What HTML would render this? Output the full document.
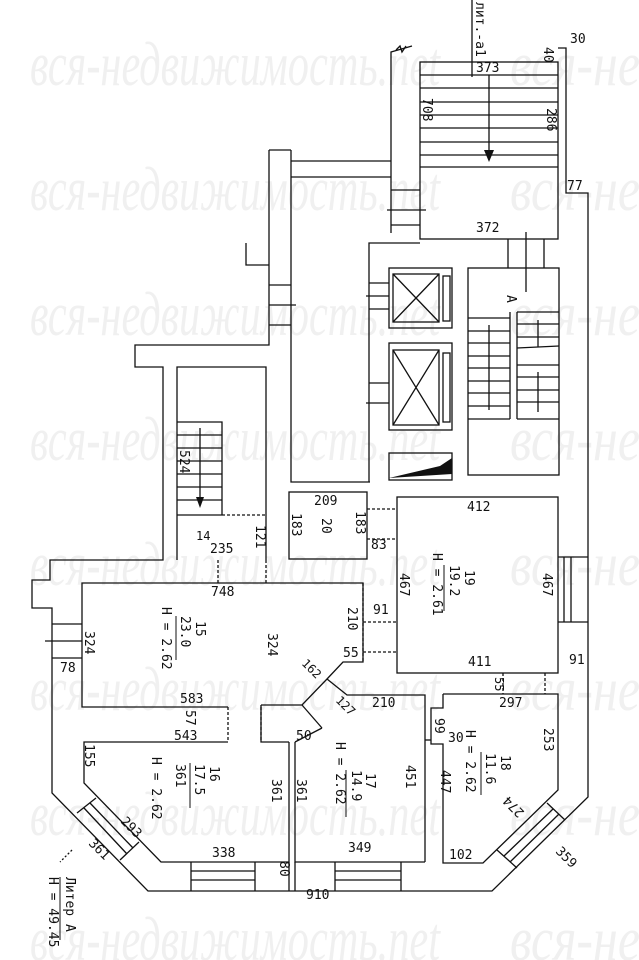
<!DOCTYPE html>
<html><head><meta charset="utf-8"><style>
html,body{margin:0;padding:0;background:#fff;width:639px;height:960px;overflow:hidden}
svg{display:block}
.w{font-family:"Liberation Serif",serif;font-style:italic;font-size:62px;fill:#f0f0f0}
text.t{font-family:"DejaVu Sans Mono","Liberation Mono",monospace;font-size:13px;fill:#111}
</style></head><body>
<svg width="639" height="960" viewBox="0 0 639 960" xmlns="http://www.w3.org/2000/svg">
<g class="w">
<text x="30" y="85" textLength="410" lengthAdjust="spacingAndGlyphs">вся-недвижимость.net</text>
<text x="510" y="85" textLength="130" lengthAdjust="spacingAndGlyphs">вся-не</text>
<text x="30" y="210" textLength="410" lengthAdjust="spacingAndGlyphs">вся-недвижимость.net</text>
<text x="510" y="210" textLength="130" lengthAdjust="spacingAndGlyphs">вся-не</text>
<text x="30" y="335" textLength="410" lengthAdjust="spacingAndGlyphs">вся-недвижимость.net</text>
<text x="510" y="335" textLength="130" lengthAdjust="spacingAndGlyphs">вся-не</text>
<text x="30" y="460" textLength="410" lengthAdjust="spacingAndGlyphs">вся-недвижимость.net</text>
<text x="510" y="460" textLength="130" lengthAdjust="spacingAndGlyphs">вся-не</text>
<text x="30" y="585" textLength="410" lengthAdjust="spacingAndGlyphs">вся-недвижимость.net</text>
<text x="510" y="585" textLength="130" lengthAdjust="spacingAndGlyphs">вся-не</text>
<text x="30" y="710" textLength="410" lengthAdjust="spacingAndGlyphs">вся-недвижимость.net</text>
<text x="510" y="710" textLength="130" lengthAdjust="spacingAndGlyphs">вся-не</text>
<text x="30" y="835" textLength="410" lengthAdjust="spacingAndGlyphs">вся-недвижимость.net</text>
<text x="510" y="835" textLength="130" lengthAdjust="spacingAndGlyphs">вся-не</text>
<text x="30" y="960" textLength="410" lengthAdjust="spacingAndGlyphs">вся-недвижимость.net</text>
<text x="510" y="960" textLength="130" lengthAdjust="spacingAndGlyphs">вся-не</text>
</g>
<g fill="none" stroke="#111" stroke-width="1.3">
<rect x="420" y="62" width="138" height="177"/>
<path d="M472 0V77"/>
<path d="M558 48H566V193H588V797L492 891H148L52 793V608H32V580H50V560H163V367H135V345H269V150"/>
<path d="M420 75H558M420 88H558M420 102H558M420 115H558M420 128H558M420 142H558M420 155H558M420 167H558"/>
<path d="M489 75V152"/>
<path d="M391 233V52L412 46"/>
<path d="M396 50l4-4 2 6 4-6" />
<path d="M291 161H391M291 177H391M269 150L291 150M291 150V482H370"/>
<path d="M391 190H420M387 210H426M391 225H420"/>
<path d="M246 243V265H269M269 285H291M269 305H296M269 325H291"/>
<path d="M369 482V243H420"/>
<rect x="389" y="268" width="63" height="60"/><rect x="393" y="274" width="46" height="48"/><rect x="443" y="276" width="7" height="45"/>
<path d="M393 274L439 322M439 274L393 322"/>
<rect x="389" y="343" width="63" height="87"/><rect x="393" y="350" width="46" height="75"/><rect x="443" y="353" width="7" height="69"/>
<path d="M393 350L439 425M439 350L393 425"/>
<path d="M369 283H389M366 296H389M369 309H389M369 383H389M366 403H389"/>
<rect x="389" y="453" width="63" height="27"/>
<rect x="468" y="268" width="91" height="207"/>
<path d="M508 239V268M526 232V292M544 239V268"/>
<path d="M468 318H510M468 331H510M468 343H510M468 356H510M468 368H510M468 381H510M468 393H510M468 406H510M468 419H510"/>
<path d="M517 312H559M517 324H559M517 337H559M517 348L559 346M517 365H559M517 377H559M517 390H559M517 402H559M517 419H559"/>
<path d="M510 312V419M517 312V419"/>
<path d="M489 325V410M538 320V347M538 372V412"/>
<path d="M177 560V367H266V560"/>
<path d="M177 422H222V515M177 435H222M177 448H222M177 461H222M177 474H222M177 487H222M177 500H222M177 515H222"/>
<path d="M200 428V500"/>
<path d="M222 515H266" stroke-dasharray="3 2"/>
<path d="M218 560V583M266 560V583" stroke-dasharray="3 2"/>
<rect x="289" y="492" width="78" height="67"/>
<path d="M367 509H397M367 539H397" stroke-dasharray="3 2"/>
<rect x="397" y="497" width="161" height="176"/>
<path d="M558 557H588M558 622H588M564 557V622M571 557V622"/>
<path d="M363 622H397M363 652H397M363 583V662" stroke-dasharray="3 2"/>
<path d="M503 673V694M545 673V694" stroke-dasharray="3 2"/>
<path d="M228 707H82V583H363V662H343L327 679L302 705H261"/>
<path d="M52 624H82M52 658H82M45 641H82"/>
<path d="M228 707V742M261 707V742" stroke-dasharray="3 2"/>
<path d="M261 705V742H289"/>
<path d="M327 679L347 695H425V862"/>
<path d="M302 705L322 728"/>
<path d="M322 728L295 742"/>
<path d="M228 742H84V783L161 862H289V742"/>
<path d="M295 742V862H425"/>
<path d="M77 813L96 798M120 860L139 842M84 808L127 854M90 803L133 848"/>
<path d="M443 694H558V790L483 863H443V744H431V708H443V694"/>
<path d="M425 740H431"/>
<path d="M497 850L517 868M547 803L565 820M504 856L553 809M510 862L559 814"/>
<path d="M191 862V891M255 862V891M191 871H255M191 880H255M335 862V891M401 862V891M335 871H401M335 880H401M289 862V891M295 862V891"/>
<path d="M72 850L60 862" stroke-dasharray="2 2"/>
</g>
<path d="M389 478L452 474V458L440 466Z" fill="#111"/>
<path d="M484 150L494 150L489 162Z" fill="#111"/>
<path d="M196 497L204 497L200 508Z" fill="#111"/>
<g>
<text class="t" x="570" y="43">30</text>
<text class="t" x="0" y="0" transform="translate(544,47) rotate(90)">40</text>
<text class="t" x="0" y="0" transform="translate(476,2) rotate(90)">лит.-а1</text>
<text class="t" x="476" y="72">373</text>
<text class="t" x="0" y="0" transform="translate(423,98) rotate(90)">708</text>
<text class="t" x="0" y="0" transform="translate(547,108) rotate(90)">286</text>
<text class="t" x="567" y="190">77</text>
<text class="t" x="476" y="232">372</text>
<text class="t" x="0" y="0" transform="translate(180,450) rotate(90)">524</text>
<text class="t" x="0" y="0" transform="translate(507,295) rotate(90)">A</text>
<text class="t" x="196" y="540" style="font-size:12px">14</text>
<text class="t" x="210" y="553">235</text>
<text class="t" x="0" y="0" transform="translate(256,525) rotate(90)">121</text>
<text class="t" x="314" y="505">209</text>
<text class="t" x="0" y="0" transform="translate(292,513) rotate(90)">183</text>
<text class="t" x="0" y="0" transform="translate(322,518) rotate(90)">20</text>
<text class="t" x="0" y="0" transform="translate(356,511) rotate(90)">183</text>
<text class="t" x="371" y="549" fill="#555">83</text>
<text class="t" x="467" y="511">412</text>
<text class="t" x="0" y="0" transform="translate(465,570) rotate(90)">19</text>
<text class="t" x="0" y="0" transform="translate(450,565) rotate(90)">19.2</text>
<line x1="444" y1="565" x2="444" y2="611" stroke="#111"/>
<text class="t" x="0" y="0" transform="translate(433,553) rotate(90)">H = 2.61</text>
<text class="t" x="0" y="0" transform="translate(400,573) rotate(90)">467</text>
<text class="t" x="0" y="0" transform="translate(543,573) rotate(90)">467</text>
<text class="t" x="468" y="666">411</text>
<text class="t" x="569" y="664">91</text>
<text class="t" x="373" y="614">91</text>
<text class="t" x="0" y="0" transform="translate(348,607) rotate(90)">210</text>
<text class="t" x="343" y="657">55</text>
<text class="t" x="211" y="596">748</text>
<text class="t" x="0" y="0" transform="translate(196,621) rotate(90)">15</text>
<text class="t" x="0" y="0" transform="translate(181,616) rotate(90)">23.0</text>
<line x1="176" y1="616" x2="176" y2="660" stroke="#111"/>
<text class="t" x="0" y="0" transform="translate(162,607) rotate(90)">H = 2.62</text>
<text class="t" x="0" y="0" transform="translate(268,633) rotate(90)">324</text>
<text class="t" x="0" y="0" transform="translate(85,631) rotate(90)">324</text>
<text class="t" x="60" y="672">78</text>
<text class="t" x="180" y="703">583</text>
<text class="t" x="0" y="0" transform="translate(186,710) rotate(90)">57</text>
<text class="t" x="174" y="740">543</text>
<text class="t" x="0" y="0" transform="translate(301,664) rotate(45)" style="font-size:12px">162</text>
<text class="t" x="0" y="0" transform="translate(335,701) rotate(45)" style="font-size:12px">127</text>
<text class="t" x="372" y="707">210</text>
<text class="t" x="296" y="740">50</text>
<text class="t" x="0" y="0" transform="translate(85,744) rotate(90)">155</text>
<text class="t" x="0" y="0" transform="translate(210,766) rotate(90)">16</text>
<text class="t" x="0" y="0" transform="translate(195,764) rotate(90)">17.5</text>
<line x1="190" y1="763" x2="190" y2="808" stroke="#111"/>
<text class="t" x="0" y="0" transform="translate(176,764) rotate(90)">361</text>
<text class="t" x="0" y="0" transform="translate(152,757) rotate(90)">H = 2.62</text>
<text class="t" x="0" y="0" transform="translate(272,779) rotate(90)">361</text>
<text class="t" x="0" y="0" transform="translate(297,779) rotate(90)">361</text>
<text class="t" x="0" y="0" transform="translate(120,822) rotate(45)">293</text>
<text class="t" x="0" y="0" transform="translate(88,844) rotate(45)">361</text>
<text class="t" x="212" y="857">338</text>
<text class="t" x="0" y="0" transform="translate(280,861) rotate(90)">80</text>
<text class="t" x="348" y="852">349</text>
<text class="t" x="306" y="899">910</text>
<text class="t" x="0" y="0" transform="translate(336,742) rotate(90)">H = 2.62</text>
<text class="t" x="0" y="0" transform="translate(366,773) rotate(90)">17</text>
<text class="t" x="0" y="0" transform="translate(352,770) rotate(90)">14.9</text>
<line x1="346" y1="770" x2="346" y2="817" stroke="#111"/>
<text class="t" x="0" y="0" transform="translate(406,765) rotate(90)">451</text>
<text class="t" x="499" y="707">297</text>
<text class="t" x="0" y="0" transform="translate(495,677) rotate(90)" style="font-size:12px">55</text>
<text class="t" x="0" y="0" transform="translate(435,718) rotate(90)">99</text>
<text class="t" x="448" y="742">30</text>
<text class="t" x="0" y="0" transform="translate(466,730) rotate(90)">H = 2.62</text>
<text class="t" x="0" y="0" transform="translate(501,755) rotate(90)">18</text>
<text class="t" x="0" y="0" transform="translate(486,753) rotate(90)">11.6</text>
<line x1="481" y1="752" x2="481" y2="795" stroke="#111"/>
<text class="t" x="0" y="0" transform="translate(441,770) rotate(90)">447</text>
<text class="t" x="0" y="0" transform="translate(544,728) rotate(90)">253</text>
<text class="t" x="449" y="859">102</text>
<text class="t" x="0" y="0" transform="translate(525,812) rotate(-135)">274</text>
<text class="t" x="0" y="0" transform="translate(555,852) rotate(45)">359</text>
<text class="t" x="0" y="0" transform="translate(66,877) rotate(90)">Литер А</text>
<line x1="60" y1="877" x2="60" y2="940" stroke="#111"/>
<text class="t" x="0" y="0" transform="translate(49,877) rotate(90)">H = 49.45</text>
</g>
</svg>
</body></html>
